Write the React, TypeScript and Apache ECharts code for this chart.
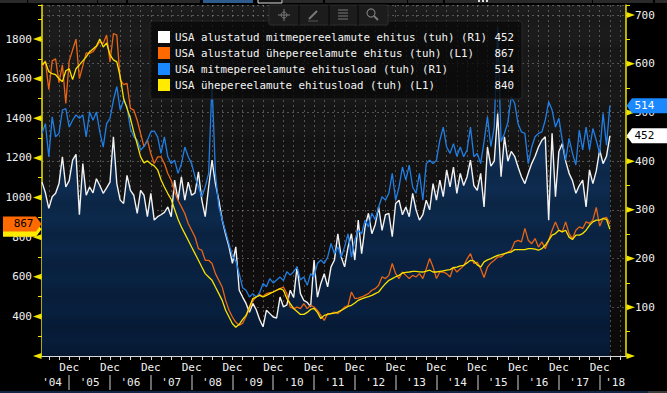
import React, { useEffect, useRef } from 'react';
import * as echarts from 'echarts';

const FONT = '"DejaVu Sans Mono", "Liberation Mono", monospace';

const seriesNames = [
  'USA alustatud mitmepereelamute ehitus (tuh) (R1)',
  'USA alustatud ühepereelamute ehitus (tuh) (L1)',
  'USA mitmepereelamute ehitusload (tuh) (R1)',
  'USA ühepereelamute ehitusload (tuh) (L1)',
];

// Monthly values, April 2004 ... March 2018 (one row = April..March)
const multiStarts = [
  357, 335, 303, 327, 334, 354, 409, 347, 360, 402, 414, 290,
  395, 330, 347, 335, 364, 350, 334, 345, 357, 450, 354, 320,
  313, 371, 340, 330, 293, 340, 330, 286, 334, 279, 286, 290,
  295, 306, 286, 361, 320, 368, 320, 357, 330, 335, 378, 320,
  286, 347, 402, 354, 320, 279, 250, 224, 190, 224, 135, 121,
  108, 90, 108, 95, 75, 60, 94, 87, 80, 78, 121, 101,
  105, 135, 120, 183, 128, 114, 110, 101, 197, 121, 149, 169,
  142, 183, 197, 251, 203, 183, 224, 251, 197, 279, 210, 265,
  293, 251, 270, 306, 258, 290, 293, 245, 313, 320, 290, 306,
  286, 334, 300, 279, 290, 320, 300, 354, 320, 361, 327, 382,
  347, 388, 334, 375, 350, 368, 402, 350, 340, 375, 306, 429,
  390, 400, 498, 368, 450, 400, 420, 410, 388, 368, 354, 375,
  395, 410, 429, 443, 450, 279, 457, 327, 420, 436, 400, 375,
  360, 334, 350, 361, 306, 382, 354, 380, 423, 395, 410, 452,
];

const singleStarts = [
  1660, 1690, 1545, 1690, 1700, 1580, 1670, 1475, 1690, 1745, 1800, 1600,
  1665, 1730, 1728, 1736, 1760, 1786, 1778, 1820, 1685, 1828, 1820, 1595,
  1570, 1576, 1450, 1441, 1390, 1323, 1256, 1290, 1222, 1172, 1205, 1205,
  1172, 1121, 1087, 1028, 986, 953, 919, 869, 835, 801, 742, 734,
  683, 683, 667, 616, 582, 548, 481, 431, 397, 370, 355, 365,
  400, 440, 480, 498, 510, 500, 515, 520, 523, 532, 540, 548,
  515, 447, 439, 447, 439, 464, 439, 456, 447, 430, 405, 380,
  414, 414, 422, 414, 430, 447, 455, 523, 490, 492, 498, 506,
  515, 532, 540, 557, 600, 591, 607, 667, 616, 591, 624, 607,
  591, 607, 599, 616, 591, 640, 692, 649, 591, 624, 624, 616,
  599, 649, 624, 640, 655, 690, 717, 667, 674, 641, 596, 649,
  670, 683, 700, 700, 715, 725, 734, 776, 784, 776, 844, 784,
  767, 793, 750, 776, 742, 784, 835, 877, 835, 827, 877, 818,
  793, 835, 852, 844, 877, 870, 886, 950, 855, 895, 900, 867,
];

const multiPermits = [
  457, 477, 409, 491, 450, 457, 505, 508, 470, 484, 495, 488,
  495, 450, 501, 484, 501, 460, 429, 477, 488, 525, 553, 505,
  525, 512, 467, 450, 443, 423, 430, 443, 460, 462, 450, 416,
  450, 409, 395, 402, 375, 395, 429, 409, 395, 368, 347, 327,
  347, 375, 560, 375, 306, 280, 255, 230, 205, 195, 169, 140,
  135, 121, 128, 121, 130, 149, 142, 159, 150, 156, 162, 155,
  173, 166, 173, 183, 156, 162, 145, 169, 162, 190, 197, 190,
  203, 231, 210, 224, 203, 224, 251, 203, 238, 258, 251, 279,
  265, 293, 280, 306, 327, 320, 334, 375, 320, 347, 388, 361,
  392, 347, 334, 375, 320, 395, 402, 395, 402, 443, 470, 429,
  416, 436, 410, 429, 409, 423, 470, 409, 416, 395, 440, 491,
  430, 470, 676, 440, 457, 480, 532, 519, 477, 460, 457, 395,
  429, 450, 457, 460, 484, 522, 505, 470, 488, 443, 402, 447,
  416, 392, 464, 423, 470, 423, 467, 443, 416, 498, 433, 514,
];

const singlePermits = [
  1670, 1685, 1635, 1625, 1620, 1600, 1585, 1640, 1650, 1595, 1650, 1670,
  1690, 1710, 1735, 1750, 1765, 1800, 1760, 1780, 1720, 1695, 1685, 1610,
  1500, 1450, 1400, 1330, 1270, 1205, 1175, 1185, 1170, 1160, 1140, 1090,
  1053, 1020, 990, 940, 890, 851, 818, 784, 750, 717, 683, 649,
  616, 599, 582, 548, 515, 481, 431, 397, 363, 345, 360, 385,
  405, 447, 490, 498, 506, 498, 506, 515, 523, 532, 540, 532,
  490, 465, 440, 425, 410, 410, 420, 435, 440, 420, 389, 405,
  410, 414, 417, 422, 430, 440, 450, 456, 468, 481, 488, 495,
  500, 506, 515, 523, 545, 565, 582, 591, 600, 607, 619, 622,
  624, 627, 627, 625, 624, 628, 633, 624, 624, 627, 630, 633,
  636, 646, 649, 655, 658, 670, 683, 680, 660, 649, 675, 685,
  692, 700, 708, 712, 717, 722, 725, 737, 737, 737, 737, 742,
  742, 740, 734, 742, 759, 784, 810, 818, 835, 827, 835, 800,
  788, 810, 810, 818, 835, 860, 877, 886, 886, 894, 890, 840,
];

const leftMajor = [200, 400, 600, 800, 1000, 1200, 1400, 1600, 1800];
const leftLabelValues = [400, 600, 800, 1000, 1200, 1400, 1600, 1800];
const rightMajor = [0, 100, 200, 300, 400, 500, 600, 700];
const rightLabelValues = [100, 200, 300, 400, 500, 600, 700];
const decYears = [2005, 2006, 2007, 2008, 2009, 2010, 2011, 2012, 2013, 2014, 2015, 2016, 2017, 2018];
const yearLabels = ["'04", "'05", "'06", "'07", "'08", "'09", "'10", "'11", "'12", "'13", "'14", "'15", "'16", "'17", "'18"];

const FIRST_YEAR = 2004;
const FIRST_MONTH = 4;
const X_MIN = FIRST_YEAR + FIRST_MONTH / 12;
const X_MAX = 2018.645;
const L_MIN = 200;
const L_MAX = 1972;
const R_MIN = 0;
const R_MAX = 720.6;

const monthX = (i: number) => FIRST_YEAR + (FIRST_MONTH + i) / 12;
const pairs = (arr: number[]) => arr.map((v, i) => [monthX(i), v]);
const quarterTicks = Array.from({ length: 57 }, (_, k) => 2004.5 + k * 0.25);
const yearLabelX = yearLabels.map((_, k) =>
  k === 0 ? 2004.58 : k === yearLabels.length - 1 ? 2018.38 : FIRST_YEAR + k + 0.5
);

const lineColors = ['#f2f2f2', '#ea6513', '#1f7fe6', '#f8e200'];
const legendColors = ['#ffffff', '#ff6a00', '#1a88ff', '#ffea00'];
const YEL = '#f2e400';
const GRID = 'rgba(170,170,170,0.42)';

const allSeries = [multiStarts, singleStarts, multiPermits, singlePermits];
const lastValues: Record<string, number> = {};
seriesNames.forEach((n, k) => { lastValues[n] = allSeries[k][allSeries[k].length - 1]; });

function bandedStops(top: number[], bottom: number[], bands: number, amp: number) {
  const stops: { offset: number; color: string }[] = [];
  for (let k = 0; k <= bands; k++) {
    const t = k / bands;
    const f = k % 2 === 0 ? 1 : 1 - amp;
    const c = top.map((x, i) => Math.round((x + (bottom[i] - x) * t) * f));
    stops.push({ offset: t, color: `rgb(${c.join(',')})` });
  }
  return stops;
}

const GRID_TOP = 5;
const GRID_BOTTOM_PX = 356;

export default function App() {
  const ref = useRef<HTMLDivElement>(null);

  useEffect(() => {
    document.body.style.margin = '0';
    const el = ref.current!;
    const chart = echarts.init(el, null, { renderer: 'svg' });

    const fillGradient = {
      type: 'linear', x: 0, y: GRID_TOP, x2: 0, y2: GRID_BOTTOM_PX, global: true,
      colorStops: bandedStops([22, 62, 108], [6, 27, 56], 23, 0.13),
    };
    const bgGradient = {
      type: 'linear', x: 0, y: 0, x2: 0, y2: 1,
      colorStops: bandedStops([30, 30, 30], [12, 9, 9], 23, 0.14),
    };

    const textStyleBase = { color: '#f0f0f0', fontFamily: FONT, fontSize: 11 };
    const legendText = { color: '#f4f4f4', fontFamily: FONT, fontSize: 10.8 };

    const option: any = {
      animation: false,
      backgroundColor: '#000000',
      grid: {
        left: 42, right: 41, top: GRID_TOP, bottom: 393 - GRID_BOTTOM_PX,
        show: true, backgroundColor: bgGradient, borderWidth: 0, containLabel: false,
        outerBoundsMode: 'none',
      },
      legend: {
        show: true, orient: 'vertical', left: 150, top: 21,
        padding: [10, 8, 8, 8], itemGap: 4, itemWidth: 12, itemHeight: 12,
        backgroundColor: 'rgba(9,9,9,0.8)', borderColor: '#272727', borderWidth: 1, borderRadius: 3,
        selectedMode: false,
        data: seriesNames.map((n, k) => ({ name: n, icon: 'rect', itemStyle: { color: legendColors[k], borderWidth: 0 } })),
        formatter: (name: string) => `{n|${name}}{v|${lastValues[name]}}`,
        textStyle: {
          ...legendText,
          rich: {
            n: { ...legendText, width: 318, lineHeight: 12 },
            v: { ...legendText, width: 21, align: 'right', lineHeight: 12 },
          },
        },
      },
      xAxis: [
        {
          type: 'value', min: X_MIN, max: X_MAX, position: 'bottom',
          axisLine: { show: true, onZero: false, lineStyle: { color: '#d8d8d8', width: 1 } },
          axisTick: { show: true, customValues: quarterTicks, length: 4, lineStyle: { color: '#d8d8d8' } },
          axisLabel: { customValues: decYears, formatter: () => 'Dec', ...textStyleBase, margin: 6 },
          splitLine: { show: true, lineStyle: { type: [2, 3], color: GRID, width: 1 } },
        },
        {
          type: 'value', min: X_MIN, max: X_MAX, position: 'bottom', offset: 19,
          axisLine: { show: false, onZero: false },
          axisTick: { show: true, customValues: decYears, length: 15, lineStyle: { color: '#8c8c8c', width: 1.5 } },
          axisLabel: {
            customValues: yearLabelX,
            formatter: (v: number) => yearLabels[Math.floor(v) - FIRST_YEAR] || '',
            ...textStyleBase, margin: 2,
          },
          splitLine: { show: false },
        },
      ],
      yAxis: [
        {
          type: 'value', position: 'left', min: L_MIN, max: L_MAX, interval: 100,
          axisLine: { show: true, lineStyle: { color: YEL, width: 1.5 } },
          axisTick: { show: true, length: 4, lineStyle: { color: YEL } },
          axisLabel: {
            ...textStyleBase, margin: 10,
            formatter: (v: number) => (leftLabelValues.indexOf(v) >= 0 ? String(v) : ''),
          },
          splitLine: { show: false },
        },
        {
          type: 'value', position: 'right', min: R_MIN, max: R_MAX, interval: 100,
          axisLine: { show: true, lineStyle: { color: YEL, width: 1.5 } },
          axisTick: { show: true, length: 4, lineStyle: { color: YEL } },
          minorTick: { show: true, splitNumber: 2, length: 4, lineStyle: { color: YEL } },
          axisLabel: {
            ...textStyleBase, margin: 9,
            formatter: (v: number) => (rightLabelValues.indexOf(v) >= 0 ? String(v) : ''),
          },
          splitLine: { show: true, lineStyle: { type: [2, 3], color: GRID, width: 1 } },
        },
      ],
      series: [
        {
          name: seriesNames[0], type: 'line', xAxisIndex: 0, yAxisIndex: 1,
          data: pairs(multiStarts), symbol: 'none', showSymbol: false,
          lineStyle: { color: lineColors[0], width: 1.4 },
          itemStyle: { color: legendColors[0] },
          areaStyle: { color: fillGradient, opacity: 1 },
          z: 2,
        },
        {
          name: seriesNames[1], type: 'line', xAxisIndex: 0, yAxisIndex: 0,
          data: pairs(singleStarts), symbol: 'none', showSymbol: false,
          lineStyle: { color: lineColors[1], width: 1.3 },
          itemStyle: { color: legendColors[1] }, z: 3,
        },
        {
          name: seriesNames[2], type: 'line', xAxisIndex: 0, yAxisIndex: 1,
          data: pairs(multiPermits), symbol: 'none', showSymbol: false,
          lineStyle: { color: lineColors[2], width: 1.3 },
          itemStyle: { color: legendColors[2] }, z: 3,
        },
        {
          name: seriesNames[3], type: 'line', xAxisIndex: 0, yAxisIndex: 0,
          data: pairs(singlePermits), symbol: 'none', showSymbol: false,
          lineStyle: { color: lineColors[3], width: 1.3 },
          itemStyle: { color: legendColors[3] }, z: 3,
        },
      ],
    };

    chart.setOption(option);

    const toX = (v: number) => chart.convertToPixel({ xAxisIndex: 0 }, v) as number;
    const toYL = (v: number) => chart.convertToPixel({ yAxisIndex: 0 }, v) as number;
    const toYR = (v: number) => chart.convertToPixel({ yAxisIndex: 1 }, v) as number;
    const xl = toX(X_MIN);
    const xr = toX(X_MAX);

    const els: any[] = [];

    // Axis tick pennants
    leftMajor.forEach((v) => {
      const y = toYL(v);
      els.push({ type: 'polygon', z: 50, shape: { points: [[xl - 0.5, y - 3], [xl - 9, y], [xl - 0.5, y + 3]] }, style: { fill: YEL } });
    });
    rightMajor.forEach((v) => {
      const y = toYR(v);
      els.push({ type: 'polygon', z: 50, shape: { points: [[xr + 0.5, y - 3], [xr + 9, y], [xr + 0.5, y + 3]] }, style: { fill: YEL } });
    });

    // Last-value tags
    const tagFont = `11px ${FONT}`;
    const leftTag = (y: number, fill: string, txt: string | null, color: string) => {
      els.push({ type: 'polygon', z: 100, shape: { points: [[3, y - 7.5], [xl - 6, y - 7.5], [xl - 0.5, y], [xl - 6, y + 7.5], [3, y + 7.5]] }, style: { fill } });
      if (txt) {
        els.push({ type: 'text', z: 101, style: { text: txt, x: xl - 8.5, y, fill: color, font: tagFont, textAlign: 'right', align: 'right', textVerticalAlign: 'middle', verticalAlign: 'middle' } });
      }
    };
    const rightTag = (y: number, fill: string, txt: string, color: string) => {
      els.push({ type: 'polygon', z: 100, shape: { points: [[xr + 0.5, y], [xr + 6, y - 7.5], [667, y - 7.5], [667, y + 7.5], [xr + 6, y + 7.5]] }, style: { fill } });
      els.push({ type: 'text', z: 101, style: { text: txt, x: xr + 8.5, y, fill: color, font: tagFont, textAlign: 'left', align: 'left', textVerticalAlign: 'middle', verticalAlign: 'middle' } });
    };
    const lastSP = singlePermits[singlePermits.length - 1];
    const lastSS = singleStarts[singleStarts.length - 1];
    const lastMP = multiPermits[multiPermits.length - 1];
    const lastMS = multiStarts[multiStarts.length - 1];
    // the yellow tag sits behind the orange one; only its lower edge shows
    leftTag(toYL(lastSP), legendColors[3], null, '#000');
    leftTag(toYL(lastSS), legendColors[1], String(lastSS), '#000');
    rightTag(toYR(lastMP), legendColors[2], String(lastMP), '#fff');
    rightTag(toYR(lastMS), '#ffffff', String(lastMS), '#000');

    // Top strip (terminal UI fragments)
    const strips = [
      [0, 27, '#2a2a2a'], [28, 69, '#2a2a2a'], [98, 28, '#2a2a2a'], [128, 72, '#2a2a2a'],
      [203, 50, '#2f5b8c'], [283, 40, '#2a2a2a'], [325, 82, '#2a2a2a'], [408, 35, '#2a2a2a'],
      [445, 147, '#2a2a2a'], [593, 60, '#2a2a2a'], [655, 12, '#2a2a2a'],
    ];
    strips.forEach(([x, w, c]) => {
      els.push({ type: 'rect', z: 60, shape: { x, y: 0, width: w, height: 3 }, style: { fill: c } });
    });
    els.push({ type: 'rect', z: 60, shape: { x: 258, y: -1, width: 24, height: 4 }, style: { fill: '#111', stroke: '#e0e0e0', lineWidth: 1 } });
    [478, 482, 486].forEach((x) => els.push({ type: 'rect', z: 61, shape: { x, y: 0, width: 2, height: 2 }, style: { fill: '#ddd' } }));

    // Toolbar
    els.push({ type: 'rect', z: 60, shape: { x: 269, y: 5, width: 119, height: 20, r: 1 }, style: { fill: '#1c1c1c', stroke: '#2c2c2c', lineWidth: 1 } });
    [299, 329, 358].forEach((x) => els.push({ type: 'line', z: 61, shape: { x1: x, y1: 5, x2: x, y2: 25 }, style: { stroke: '#0c0c0c', lineWidth: 1.5 } }));
    const ic = '#7a7a7a';
    els.push({ type: 'circle', z: 62, shape: { cx: 284, cy: 15, r: 3 }, style: { fill: 'none', stroke: ic, lineWidth: 1 } });
    els.push({ type: 'line', z: 62, shape: { x1: 278, y1: 15, x2: 290, y2: 15 }, style: { stroke: ic, lineWidth: 1 } });
    els.push({ type: 'line', z: 62, shape: { x1: 284, y1: 9, x2: 284, y2: 21 }, style: { stroke: ic, lineWidth: 1 } });
    els.push({ type: 'line', z: 62, shape: { x1: 309, y1: 19, x2: 317, y2: 11 }, style: { stroke: ic, lineWidth: 2 } });
    els.push({ type: 'line', z: 62, shape: { x1: 308, y1: 21, x2: 318, y2: 21 }, style: { stroke: '#555', lineWidth: 1 } });
    [10, 13, 16, 19].forEach((y) => els.push({ type: 'line', z: 62, shape: { x1: 338, y1: y, x2: 348, y2: y }, style: { stroke: ic, lineWidth: 1 } }));
    els.push({ type: 'circle', z: 62, shape: { cx: 371, cy: 13, r: 4 }, style: { fill: 'none', stroke: ic, lineWidth: 1.2 } });
    els.push({ type: 'line', z: 62, shape: { x1: 374, y1: 16, x2: 378, y2: 20 }, style: { stroke: ic, lineWidth: 2 } });

    // Bottom strip
    els.push({ type: 'rect', z: 60, shape: { x: 0, y: 391, width: 648, height: 2 }, style: { fill: '#0f2744' } });
    els.push({ type: 'rect', z: 60, shape: { x: 648, y: 391, width: 19, height: 2 }, style: { fill: '#3a3a3a' } });

    chart.setOption({ graphic: { elements: els } });

    return () => chart.dispose();
  }, []);

  return <div ref={ref} style={{ width: 667, height: 393, position: 'absolute', left: 0, top: 0 }} />;
}
